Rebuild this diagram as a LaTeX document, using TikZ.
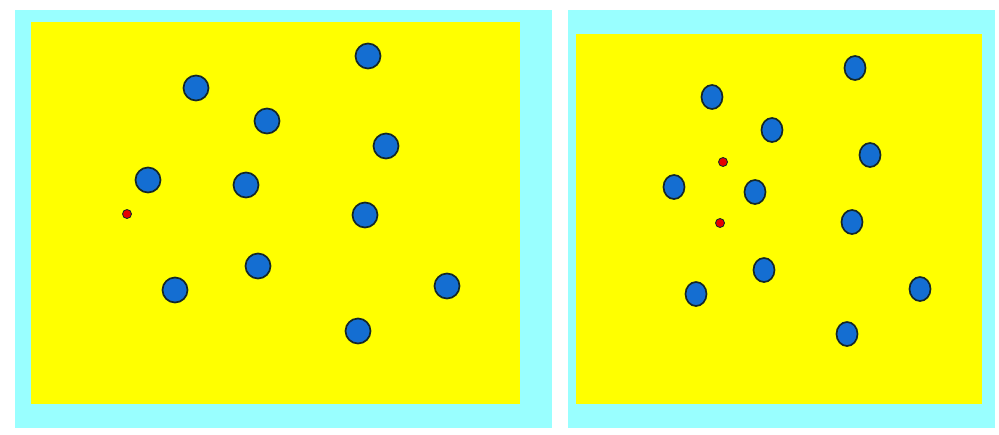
\documentclass[tikz,border=0pt]{standalone}
\usepackage{tikz}

\definecolor{frameblue}{RGB}{153,255,255}
\definecolor{fieldyellow}{RGB}{255,255,0}
\definecolor{discblue}{RGB}{20,110,210}
\definecolor{dotred}{RGB}{230,0,0}
\definecolor{rimdark}{RGB}{20,40,40}

\begin{document}
\begin{tikzpicture}[x=0.025cm, y=-0.025cm,
  frame/.style={fill=frameblue, draw=none},
  field/.style={fill=fieldyellow, draw=none},
  disc/.style={fill=discblue, draw=rimdark, line width=1.2pt},
  dot/.style={fill=dotred, draw=rimdark, line width=0.6pt}]
  \useasboundingbox (0,0) rectangle (999,434);
  % Left panel
  \fill[frame] (15,10) rectangle (552,428);
  \fill[field] (31,22) rectangle (520,404);
  \foreach \x/\y in {196/88, 368/56, 267/121, 386/146, 148/180, 246/185,
                     365/215, 258/266, 175/290, 447/286, 358/331}
    \filldraw[disc] (\x,\y) circle[radius=12.5];
  \filldraw[dot] (127,214) circle[radius=4.5];
  % Right panel
  \fill[frame] (568,10) rectangle (995,428);
  \fill[field] (576,34) rectangle (982,404);
  \foreach \x/\y in {712/97, 855/68, 772/130, 870/155, 674/187, 755/192,
                     852/222, 764/270, 696/294, 920/289, 847/334}
    \filldraw[disc] (\x,\y) ellipse[x radius=10.5, y radius=12];
  \filldraw[dot] (723,162) circle[radius=4.5];
  \filldraw[dot] (720,223) circle[radius=4.5];
\end{tikzpicture}
\end{document}
